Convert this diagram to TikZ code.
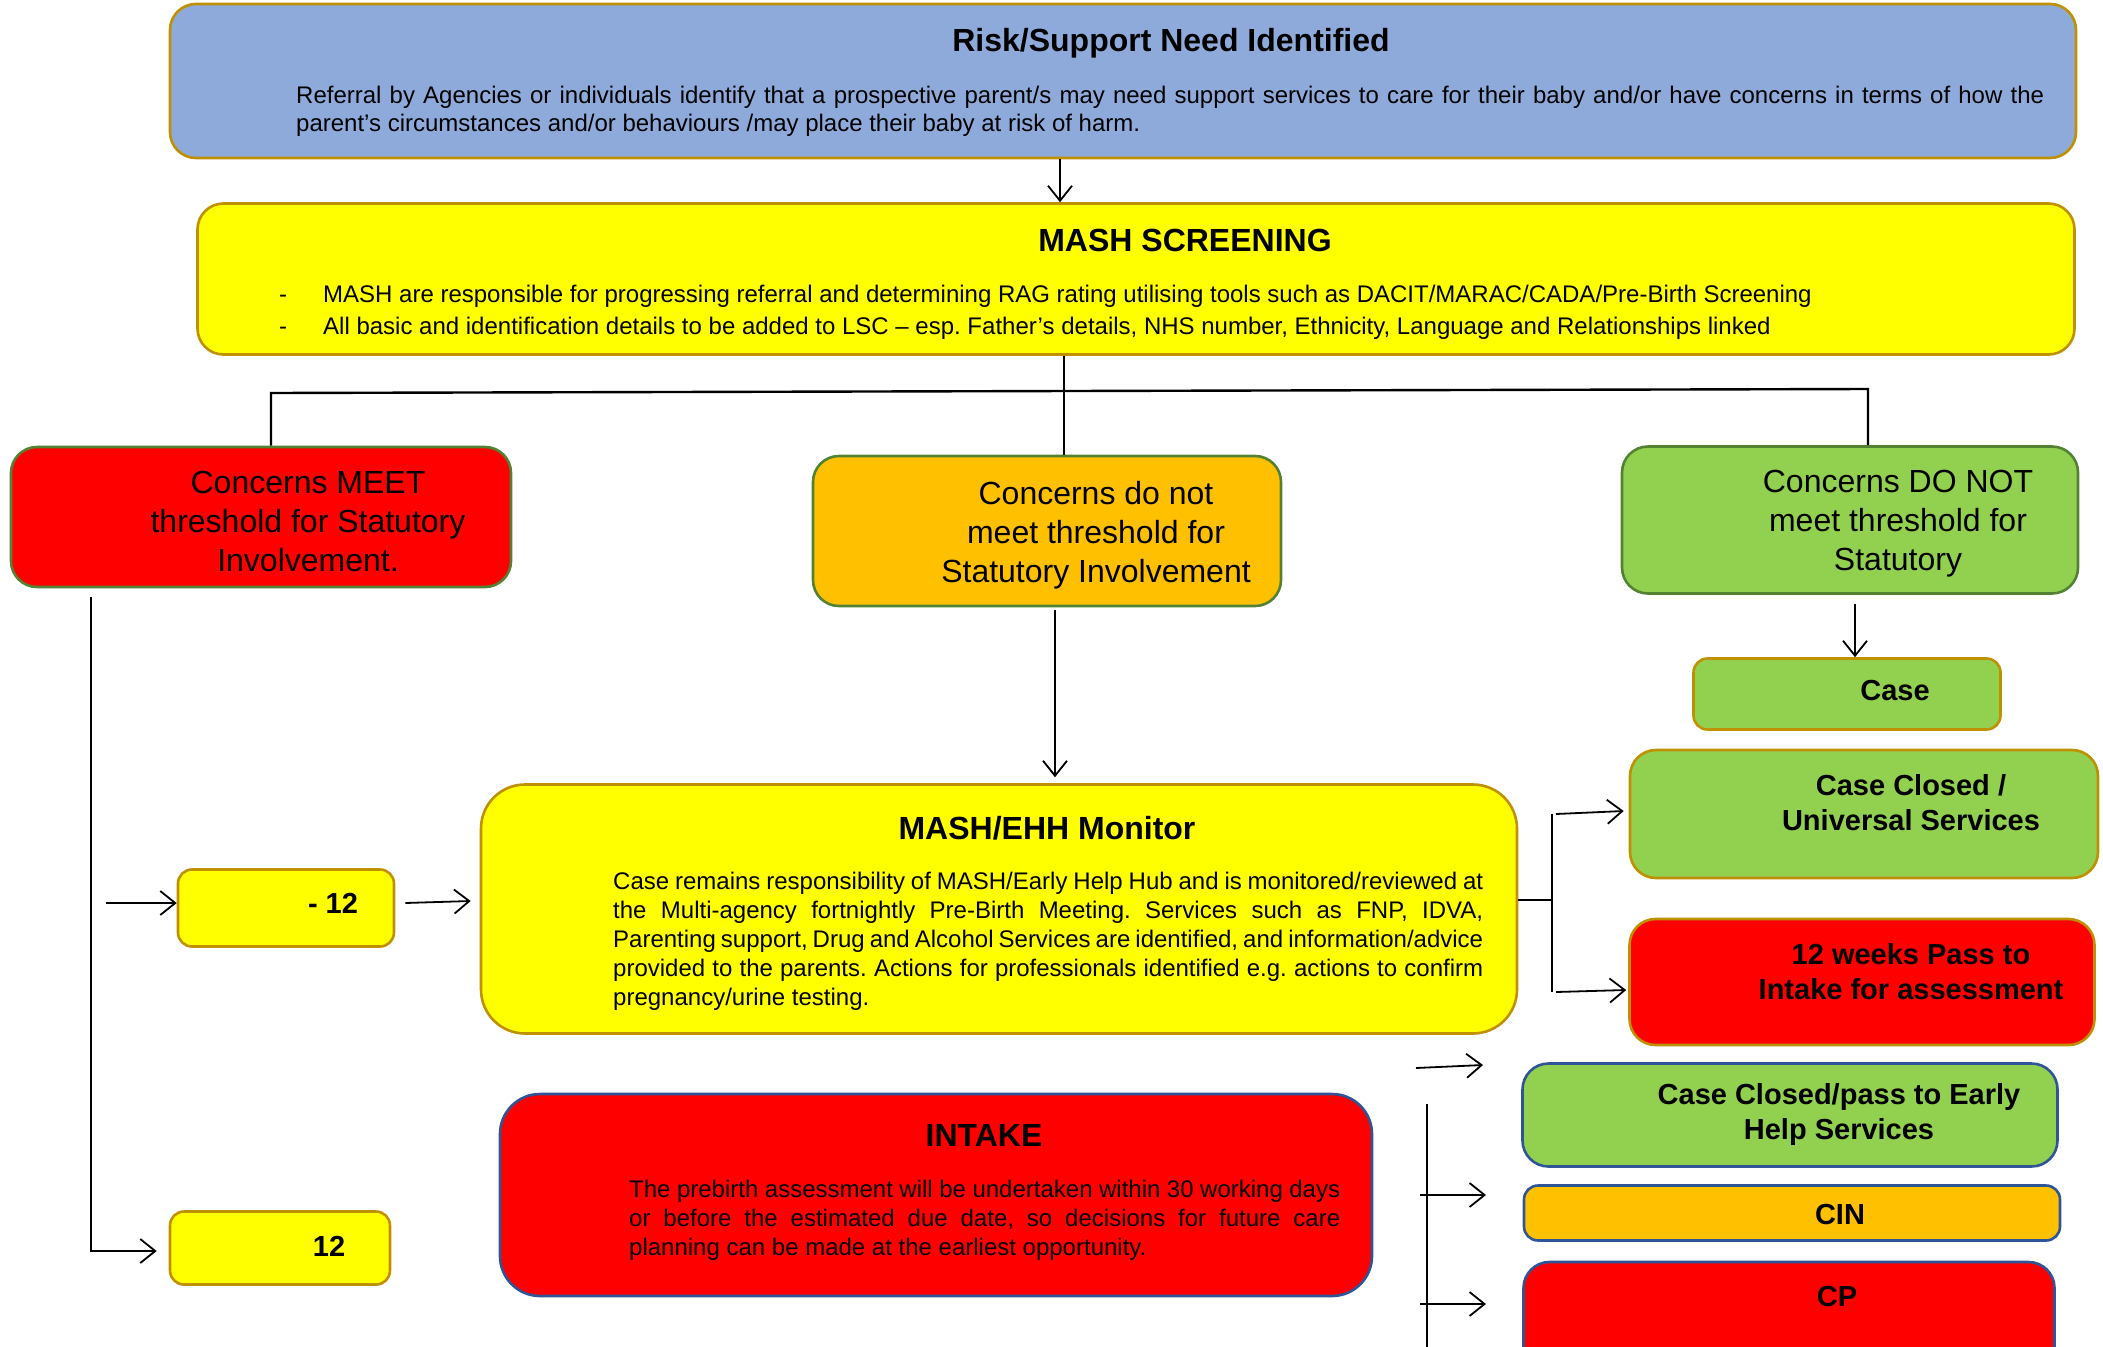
\documentclass[tikz,border=0pt]{standalone}
\usepackage{fontspec}
\setmainfont{Liberation Sans}
\usepackage{xcolor}
\usetikzlibrary{positioning,arrows.meta,calc}
\definecolor{riskblue}{HTML}{8EAADB}
\definecolor{mashyellow}{HTML}{FFFF00}
\definecolor{ragred}{HTML}{FF0000}
\definecolor{ragamber}{HTML}{FFC000}
\definecolor{raggreen}{HTML}{92D050}
\definecolor{goldline}{HTML}{BF9000}
\definecolor{greenline}{HTML}{548235}
\definecolor{blueline}{HTML}{2F5597}
\newcommand{\fsz}[2]{\fontsize{#1pt}{#2pt}\selectfont}
\frenchspacing
\hyphenpenalty=10000
\exhyphenpenalty=10000
\tikzset{
  line/.style={-{Straight Barb[length=15pt, width=24pt]}, line width=1.8pt, draw=black},
  link/.style={line width=2.4pt, draw=black}
}

\begin{document}
\begin{tikzpicture}[x=1pt, y=-1pt,
  box/.style={draw, line width=2.6pt, rounded corners=26pt, inner sep=0pt},
  tagbox/.style={box, rounded corners=14pt},
  head/.style={font=\fsz{32}{38}\bfseries, inner sep=0pt},
  body/.style={font=\fsz{24}{29}, align=justify, inner sep=0pt, anchor=north west},
  verdict/.style={font=\fsz{32}{39}, align=center, inner sep=0pt},
  outcome/.style={font=\fsz{29}{35}\bfseries, align=center, inner sep=0pt}
]
\useasboundingbox (0,0) rectangle (2103,1346);

\node[box, fill=riskblue, draw=goldline, minimum width=1906pt, minimum height=154pt] (risk) at (1123,81) {};
\node[head] (risktitle) at (1171,43) {Risk/Support Need Identified};
\node[body, font=\fsz{24}{28}, text width=1748pt] (risktext) at (296,86) {Referral by Agencies or individuals identify that a prospective parent/s may need support services to care for their baby and/or have concerns in terms of how the\linebreak parent's circumstances and/or behaviours /may place their baby at risk of harm.};

\node[box, fill=mashyellow, draw=goldline, minimum width=1877pt, minimum height=151pt] (screen) at (1136,279) {};
\node[head] (screentitle) at (1185,240) {MASH SCREENING};
\node[font=\fsz{24}{32}, align=left, inner sep=0pt, anchor=north west] (screentext) at (279,285) {\makebox[44pt][l]{-}MASH are responsible for progressing referral and determining RAG rating utilising tools such as DACIT/MARAC/CADA/Pre-Birth Screening\\\makebox[44pt][l]{-}All basic and identification details to be added to LSC – esp. Father’s details, NHS number, Ethnicity, Language and Relationships linked};

\node[box, fill=ragred, draw=greenline, minimum width=500pt, minimum height=140pt] (meet) at (261,517) {};
\node[verdict] (meettext) at (308,521) {Concerns MEET\\threshold for Statutory\\Involvement.};
\node[box, fill=ragamber, draw=greenline, minimum width=468pt, minimum height=150pt] (notmeet) at (1047,531) {};
\node[verdict] (notmeettext) at (1096,535) {Concerns do not\\meet threshold for\\Statutory Involvement};
\node[box, fill=raggreen, draw=greenline, minimum width=456pt, minimum height=147pt] (nomeet) at (1850,520) {};
\node[verdict] (nomeettext) at (1898,524) {Concerns DO NOT\\meet threshold for\\Statutory};
\node[tagbox, fill=raggreen, draw=goldline, minimum width=307pt, minimum height=71pt] (closed) at (1847,694) {};
\node[outcome] (closedtext) at (1895,691) {Case};

\node[box, rounded corners=44pt, fill=mashyellow, draw=goldline, minimum width=1036pt, minimum height=249pt] (monitor) at (999,909) {};
\node[head] (monitortitle) at (1047,828) {MASH/EHH Monitor};
\node[body, text width=870pt] (monitortext) at (613,872) {Case remains responsibility of MASH/Early Help Hub and is monitored/reviewed at\linebreak the Multi-agency fortnightly Pre-Birth Meeting. Services such as FNP, IDVA,\linebreak Parenting support, Drug and Alcohol Services are identified, and information/advice\linebreak provided to the parents. Actions for professionals identified e.g. actions to confirm\linebreak pregnancy/urine testing.};

\node[tagbox, fill=mashyellow, draw=goldline, minimum width=216pt, minimum height=77pt] (wks) at (286,908) {};
\node[outcome] (wkstext) at (333,903) {- 12};
\node[tagbox, fill=mashyellow, draw=goldline, minimum width=220pt, minimum height=73pt] (twelve) at (280,1248) {};
\node[outcome] (twelvetext) at (329,1246) {12};

\node[box, fill=raggreen, draw=goldline, minimum width=468pt, minimum height=128pt] (universal) at (1864,814) {};
\node[outcome] (universaltext) at (1911,803) {Case Closed /\\Universal Services};
\node[box, fill=ragred, draw=goldline, minimum width=465pt, minimum height=126pt] (weeks) at (1862,982) {};
\node[outcome] (weekstext) at (1911,972) {12 weeks Pass to\\Intake for assessment};

\node[box, rounded corners=40pt, fill=ragred, draw=blueline, minimum width=872pt, minimum height=202pt] (intake) at (936,1195) {};
\node[head] (intaketitle) at (984,1135) {INTAKE};
\node[body, text width=711pt] (intaketext) at (629,1180) {The prebirth assessment will be undertaken within 30 working days\linebreak or before the estimated due date, so decisions for future care\linebreak planning can be made at the earliest opportunity.};

\node[box, fill=raggreen, draw=blueline, minimum width=535pt, minimum height=103pt] (earlyhelp) at (1790,1115) {};
\node[outcome] (earlyhelptext) at (1839,1114) {Case Closed/pass to Early\\Help Services};
\node[tagbox, fill=ragamber, draw=blueline, minimum width=536pt, minimum height=55pt] (cin) at (1792,1213) {};
\node[outcome] (cintext) at (1840,1215) {CIN};
\node[box, fill=ragred, draw=blueline, minimum width=531pt, minimum height=120pt] (cp) at (1789,1322) {};
\node[outcome] (cptext) at (1837,1296) {CP};

% referral into screening
\coordinate (feed) at (1060,0);
\draw[line] (feed |- risk.south) -- (feed |- screen.north);
% split three ways
\coordinate (split) at (1064,392);
\coordinate (splitl) at (271,393);
\coordinate (splitr) at (1868,389);
\draw[link] (split |- screen.south) -- (split |- notmeet.north);
\draw[link] (splitl |- meet.north) -- (splitl) -- (splitr) -- (splitr |- nomeet.north);
\coordinate (closein) at (1855,604);
\draw[line] (closein) -- (closein |- closed.north);
\coordinate (monin) at (1055,610);
\draw[line] (monin) -- ($(monin |- monitor.north)+(0,-6)$);
% left side
\coordinate (meetdrop) at (91,597);
\draw[line] (meetdrop) |- ($(twelve.west)+(-12,3)$);
\coordinate (wksin) at (106,903);
\draw[line] (wksin) -- (wksin -| wks.west);
\draw[line] ($(wks.east)+(10,-5)$) -- ($(monitor.west)+(-9,-8)$);
% monitor outcomes
\coordinate (fork) at (1552,900);
\draw[link] (monitor.east |- fork) -- (fork);
\draw[link] ($(fork)+(0,-86)$) -- ($(fork)+(0,92)$);
\draw[line] ($(fork)+(4,-86)$) -- ($(universal.west)+(-5,-3)$);
\draw[line] ($(fork)+(4,92)$) -- ($(weeks.west)+(-2,8)$);
% intake outcomes
\coordinate (railin) at (1416,1068);
\draw[line] (railin) -- ++(67,-3);
\coordinate (rail) at (1427,1104);
\draw[link] (rail) -- ++(0,260);
\draw[line] ($(rail)+(-7,91)$) -- ++(66,0);
\draw[line] ($(rail)+(-7,200)$) -- ++(66,0);
\end{tikzpicture}
\end{document}
